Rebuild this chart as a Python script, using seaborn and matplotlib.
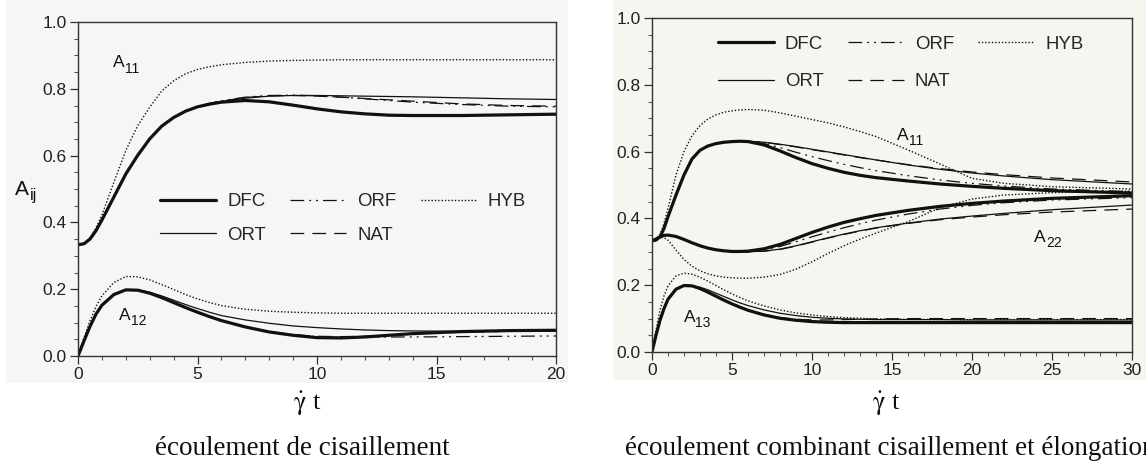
import matplotlib
matplotlib.use("Agg")
import matplotlib.pyplot as plt
from matplotlib.lines import Line2D
from matplotlib.patches import Rectangle
from matplotlib.ticker import MultipleLocator
import seaborn as sns

# ---------------- data ----------------
# shear flow (left panel)
X_SHEAR = [0, 0.25, 0.5, 0.75, 1, 1.5, 2, 2.5, 3, 3.5, 4, 4.5, 5, 5.5, 6,
           7, 8, 9, 10, 11, 12, 13, 14, 16, 18, 20]

SH_A11_DFC = [0.333, 0.336, 0.350, 0.375, 0.407, 0.476, 0.545, 0.601, 0.650, 0.688, 0.714, 0.733, 0.746,
              0.754, 0.760, 0.765, 0.761, 0.751, 0.740, 0.731, 0.725, 0.721, 0.720, 0.720, 0.722, 0.724]
SH_A11_ORT = [0.333, 0.336, 0.350, 0.375, 0.407, 0.476, 0.545, 0.601, 0.650, 0.688, 0.714, 0.733, 0.746,
              0.755, 0.762, 0.772, 0.778, 0.780, 0.780, 0.779, 0.778, 0.777, 0.776, 0.773, 0.770, 0.768]
SH_A11_ORF = [0.333, 0.336, 0.350, 0.375, 0.407, 0.476, 0.545, 0.601, 0.650, 0.688, 0.714, 0.733, 0.747,
              0.756, 0.764, 0.775, 0.780, 0.781, 0.779, 0.775, 0.770, 0.765, 0.760, 0.753, 0.748, 0.746]
SH_A11_NAT = [0.333, 0.336, 0.350, 0.375, 0.407, 0.476, 0.545, 0.601, 0.650, 0.688, 0.714, 0.733, 0.747,
              0.756, 0.763, 0.774, 0.779, 0.780, 0.778, 0.775, 0.771, 0.767, 0.763, 0.755, 0.750, 0.748]
SH_A11_HYB = [0.333, 0.337, 0.354, 0.383, 0.422, 0.520, 0.615, 0.690, 0.745, 0.793, 0.824, 0.845, 0.858,
              0.866, 0.872, 0.879, 0.883, 0.885, 0.886, 0.887, 0.887, 0.887, 0.887, 0.887, 0.887, 0.887]

SH_A12_DFC = [0.0, 0.045, 0.088, 0.125, 0.152, 0.184, 0.198, 0.197, 0.188, 0.175, 0.160, 0.145, 0.131,
              0.118, 0.106, 0.087, 0.072, 0.062, 0.055, 0.054, 0.057, 0.062, 0.067, 0.073, 0.076, 0.077]
SH_A12_ORT = [0.0, 0.045, 0.088, 0.125, 0.152, 0.184, 0.198, 0.198, 0.191, 0.180, 0.167, 0.154, 0.142,
              0.131, 0.121, 0.108, 0.098, 0.090, 0.085, 0.081, 0.078, 0.076, 0.075, 0.074, 0.074, 0.074]
SH_A12_ORF = [0.0, 0.045, 0.088, 0.125, 0.152, 0.184, 0.198, 0.197, 0.188, 0.175, 0.160, 0.145, 0.131,
              0.118, 0.106, 0.086, 0.072, 0.063, 0.058, 0.056, 0.056, 0.057, 0.057, 0.058, 0.059, 0.060]
SH_A12_NAT = [0.0, 0.045, 0.088, 0.125, 0.152, 0.184, 0.198, 0.197, 0.189, 0.176, 0.161, 0.146, 0.132,
              0.119, 0.107, 0.087, 0.073, 0.064, 0.059, 0.058, 0.059, 0.062, 0.066, 0.071, 0.074, 0.076]
SH_A12_HYB = [0.0, 0.055, 0.105, 0.148, 0.180, 0.220, 0.238, 0.237, 0.228, 0.214, 0.199, 0.184, 0.171,
              0.160, 0.151, 0.140, 0.134, 0.131, 0.129, 0.128, 0.128, 0.128, 0.128, 0.128, 0.128, 0.128]

# combined shear / elongation flow (right panel)
X_MIX = [0, 0.25, 0.5, 0.75, 1, 1.5, 2, 2.5, 3, 3.5, 4, 4.5, 5, 5.5, 6,
         7, 8, 9, 10, 11, 12, 13, 14, 16, 18, 20, 22, 25, 30]

MX_A11_DFC = [0.333, 0.335, 0.345, 0.370, 0.405, 0.470, 0.530, 0.578, 0.604, 0.617, 0.624, 0.628, 0.630,
              0.631, 0.630, 0.620, 0.602, 0.582, 0.564, 0.550, 0.538, 0.529, 0.522, 0.512, 0.503, 0.496,
              0.490, 0.483, 0.476]
MX_A11_ORT = [0.333, 0.335, 0.345, 0.370, 0.405, 0.470, 0.530, 0.578, 0.604, 0.617, 0.624, 0.628, 0.630,
              0.631, 0.631, 0.628, 0.622, 0.615, 0.607, 0.599, 0.591, 0.583, 0.575, 0.560, 0.547, 0.536,
              0.527, 0.516, 0.503]
MX_A11_ORF = [0.333, 0.335, 0.345, 0.370, 0.405, 0.470, 0.530, 0.578, 0.604, 0.617, 0.624, 0.628, 0.630,
              0.631, 0.631, 0.624, 0.612, 0.598, 0.585, 0.573, 0.562, 0.552, 0.543, 0.528, 0.515, 0.505,
              0.497, 0.488, 0.480]
MX_A11_NAT = [0.333, 0.335, 0.345, 0.370, 0.405, 0.470, 0.530, 0.578, 0.604, 0.617, 0.624, 0.628, 0.630,
              0.631, 0.631, 0.628, 0.621, 0.614, 0.606, 0.598, 0.590, 0.582, 0.575, 0.561, 0.549, 0.539,
              0.531, 0.521, 0.509]
MX_A11_HYB = [0.333, 0.336, 0.350, 0.385, 0.430, 0.530, 0.600, 0.648, 0.678, 0.698, 0.710, 0.718, 0.722,
              0.725, 0.726, 0.724, 0.716, 0.706, 0.696, 0.686, 0.674, 0.660, 0.645, 0.605, 0.563, 0.520,
              0.505, 0.495, 0.488]

MX_A22_DFC = [0.333, 0.338, 0.345, 0.349, 0.350, 0.346, 0.337, 0.327, 0.318, 0.311, 0.306, 0.303, 0.301,
              0.301, 0.302, 0.309, 0.322, 0.340, 0.358, 0.374, 0.388, 0.399, 0.409, 0.424, 0.436, 0.445,
              0.452, 0.460, 0.468]
MX_A22_ORT = [0.333, 0.338, 0.345, 0.349, 0.350, 0.346, 0.337, 0.327, 0.318, 0.311, 0.306, 0.303, 0.301,
              0.300, 0.300, 0.302, 0.308, 0.318, 0.330, 0.342, 0.353, 0.363, 0.372, 0.386, 0.398, 0.407,
              0.415, 0.426, 0.440]
MX_A22_ORF = [0.333, 0.338, 0.345, 0.349, 0.350, 0.346, 0.337, 0.327, 0.318, 0.311, 0.306, 0.303, 0.301,
              0.300, 0.301, 0.306, 0.316, 0.330, 0.345, 0.359, 0.372, 0.384, 0.395, 0.413, 0.428, 0.439,
              0.447, 0.455, 0.462]
MX_A22_NAT = [0.333, 0.338, 0.345, 0.349, 0.350, 0.346, 0.337, 0.327, 0.318, 0.311, 0.306, 0.303, 0.301,
              0.300, 0.300, 0.302, 0.307, 0.317, 0.329, 0.341, 0.352, 0.362, 0.371, 0.385, 0.396, 0.404,
              0.411, 0.419, 0.428]
MX_A22_HYB = [0.333, 0.338, 0.343, 0.342, 0.335, 0.305, 0.277, 0.257, 0.243, 0.234, 0.228, 0.224, 0.222,
              0.221, 0.221, 0.224, 0.232, 0.248, 0.270, 0.295, 0.318, 0.338, 0.356, 0.390, 0.432, 0.458,
              0.470, 0.477, 0.482]

MX_A13_DFC = [0.0, 0.050, 0.095, 0.130, 0.158, 0.188, 0.199, 0.198, 0.190, 0.179, 0.167, 0.155, 0.144,
              0.134, 0.125, 0.111, 0.101, 0.095, 0.091, 0.089, 0.088, 0.088, 0.088, 0.088, 0.088, 0.088,
              0.088, 0.088, 0.088]
MX_A13_ORT = [0.0, 0.050, 0.095, 0.130, 0.158, 0.188, 0.199, 0.199, 0.194, 0.186, 0.176, 0.166, 0.156,
              0.147, 0.139, 0.126, 0.116, 0.109, 0.104, 0.101, 0.099, 0.098, 0.097, 0.097, 0.097, 0.096,
              0.096, 0.096, 0.096]
MX_A13_ORF = [0.0, 0.050, 0.095, 0.130, 0.158, 0.188, 0.199, 0.198, 0.190, 0.179, 0.167, 0.155, 0.144,
              0.134, 0.125, 0.112, 0.102, 0.096, 0.093, 0.091, 0.091, 0.091, 0.091, 0.091, 0.091, 0.091,
              0.091, 0.091, 0.091]
MX_A13_NAT = [0.0, 0.050, 0.095, 0.130, 0.158, 0.188, 0.199, 0.198, 0.191, 0.180, 0.168, 0.157, 0.146,
              0.136, 0.126, 0.112, 0.103, 0.098, 0.096, 0.096, 0.097, 0.098, 0.099, 0.100, 0.100, 0.100,
              0.100, 0.100, 0.100]
MX_A13_HYB = [0.0, 0.065, 0.125, 0.168, 0.198, 0.228, 0.236, 0.233, 0.224, 0.212, 0.199, 0.186, 0.174,
              0.163, 0.153, 0.138, 0.126, 0.117, 0.111, 0.106, 0.103, 0.101, 0.099, 0.098, 0.097, 0.097,
              0.097, 0.097, 0.097]

MODELS = ["DFC", "ORT", "ORF", "NAT", "HYB"]
Y_TICKS = [0.0, 0.2, 0.4, 0.6, 0.8, 1.0]
X_TICKS_SHEAR = [0, 5, 10, 15, 20]
X_TICKS_MIX = [0, 5, 10, 15, 20, 25, 30]

# ---------------- styles ----------------
INK = "#111111"
STYLE = {
    "DFC": dict(lw=2.3, linestyle="-"),
    "ORT": dict(lw=0.9, linestyle="-"),
    "ORF": dict(lw=0.9, linestyle=(0, (11, 4, 1.5, 4, 1.5, 4))),
    "NAT": dict(lw=0.9, linestyle=(0, (11, 6.5))),
    "HYB": dict(lw=1.0, linestyle=(0, (1, 1.4))),
}

sns.set_style("ticks")
plt.rcParams["font.family"] = ["Liberation Sans", "DejaVu Sans"]
plt.rcParams["mathtext.fontset"] = "stix"

W, H = 1146, 463
fig = plt.figure(figsize=(W / 100, H / 100), dpi=100)
fig.patch.set_facecolor("white")

# faint scanned-panel backgrounds
fig.patches.append(Rectangle((6 / W, 1 - 383 / H), (568 - 6) / W, 383 / H,
                             transform=fig.transFigure, facecolor="#f6f6f4",
                             edgecolor="none", zorder=-10))
fig.patches.append(Rectangle((613 / W, 1 - 380 / H), (W - 613) / W, 380 / H,
                             transform=fig.transFigure, facecolor="#f3f7f0",
                             edgecolor="none", zorder=-10))

ax1 = fig.add_axes([78 / W, 1 - 356 / H, (556 - 78) / W, (356 - 22) / H])
ax2 = fig.add_axes([652 / W, 1 - 352 / H, (1132 - 652) / W, (352 - 18) / H])


def draw(ax, x, series):
    for name, y in zip(MODELS, series):
        sns.lineplot(x=x, y=y, ax=ax, color=INK, errorbar=None,
                     estimator=None, sort=False, **STYLE[name])


draw(ax1, X_SHEAR, [SH_A11_DFC, SH_A11_ORT, SH_A11_ORF, SH_A11_NAT, SH_A11_HYB])
draw(ax1, X_SHEAR, [SH_A12_DFC, SH_A12_ORT, SH_A12_ORF, SH_A12_NAT, SH_A12_HYB])
draw(ax2, X_MIX, [MX_A11_DFC, MX_A11_ORT, MX_A11_ORF, MX_A11_NAT, MX_A11_HYB])
draw(ax2, X_MIX, [MX_A22_DFC, MX_A22_ORT, MX_A22_ORF, MX_A22_NAT, MX_A22_HYB])
draw(ax2, X_MIX, [MX_A13_DFC, MX_A13_ORT, MX_A13_ORF, MX_A13_NAT, MX_A13_HYB])

for ax, xmax, xt in ((ax1, 20, X_TICKS_SHEAR), (ax2, 30, X_TICKS_MIX)):
    ax.set_facecolor("none")
    ax.set_xlim(0, xmax)
    ax.set_ylim(0, 1)
    ax.set_xticks(xt)
    ax.set_yticks(Y_TICKS)
    ax.set_yticklabels([f"{v:.1f}" for v in Y_TICKS])
    ax.xaxis.set_minor_locator(MultipleLocator(1))
    ax.yaxis.set_minor_locator(MultipleLocator(0.05))
    ax.tick_params(which="major", direction="out", length=6, width=0.9,
                   color="#333333", labelsize=12.5, pad=2, labelcolor="#222222")
    ax.tick_params(which="minor", direction="out", length=3, width=0.8, color="#555555")
    ax.set_xlabel("")
    ax.set_ylabel("")
    for sp in ax.spines.values():
        sp.set_visible(True)
        sp.set_linewidth(1.0)
        sp.set_color("#333333")

# legends
handles = [Line2D([], [], color=INK, **STYLE[m]) for m in MODELS]
leg_kw = dict(ncol=3, frameon=False, fontsize=13.4, handlelength=3.0,
              handletextpad=0.6, columnspacing=1.3, borderpad=0,
              borderaxespad=0, loc="upper left")
ax1.legend(handles, MODELS, bbox_to_anchor=(0.172, 0.488), labelspacing=0.9, **leg_kw)
ax2.legend(handles, MODELS, bbox_to_anchor=(0.137, 0.947), labelspacing=1.1, **leg_kw)


def a_label(ax, x, y, sub, size=12.5, coords="data"):
    ax.annotate("A", xy=(x, y), xycoords=coords, fontsize=size,
                ha="left", va="baseline", color="#111111")
    ax.annotate(sub, xy=(x, y), xycoords=coords, xytext=(0.68 * size, -0.32 * size),
                textcoords="offset points", fontsize=size * 0.8,
                ha="left", va="baseline", color="#111111")


a_label(ax1, 1.46, 0.865, "11")
a_label(ax1, 1.72, 0.108, "12")
a_label(ax2, 15.3, 0.635, "11")
a_label(ax2, 23.9, 0.330, "22")
a_label(ax2, 1.97, 0.090, "13")

# y label
fig.text(15 / W, 1 - 195 / H, "A", fontsize=15, ha="left", va="baseline", color="#111111")
fig.text(30 / W, 1 - 200 / H, "ij", fontsize=11.5, ha="left", va="baseline", color="#111111")

# x labels and captions
serif = ["Liberation Serif", "DejaVu Serif"]
for cx in (307, 886):
    fig.text(cx / W, 1 - 410 / H, r"$\dot{\mathrm{\gamma}}$ t", fontsize=19,
             family=serif, ha="center", va="baseline", color="#111111")
fig.text(155 / W, 1 - 455 / H, "écoulement de cisaillement", fontsize=19.5,
         family=serif, ha="left", va="baseline", color="#111111")
fig.text(625 / W, 1 - 455 / H, "écoulement combinant cisaillement et élongation",
         fontsize=19.5, family=serif, ha="left", va="baseline", color="#111111")

fig.savefig("out.png", dpi=100)
